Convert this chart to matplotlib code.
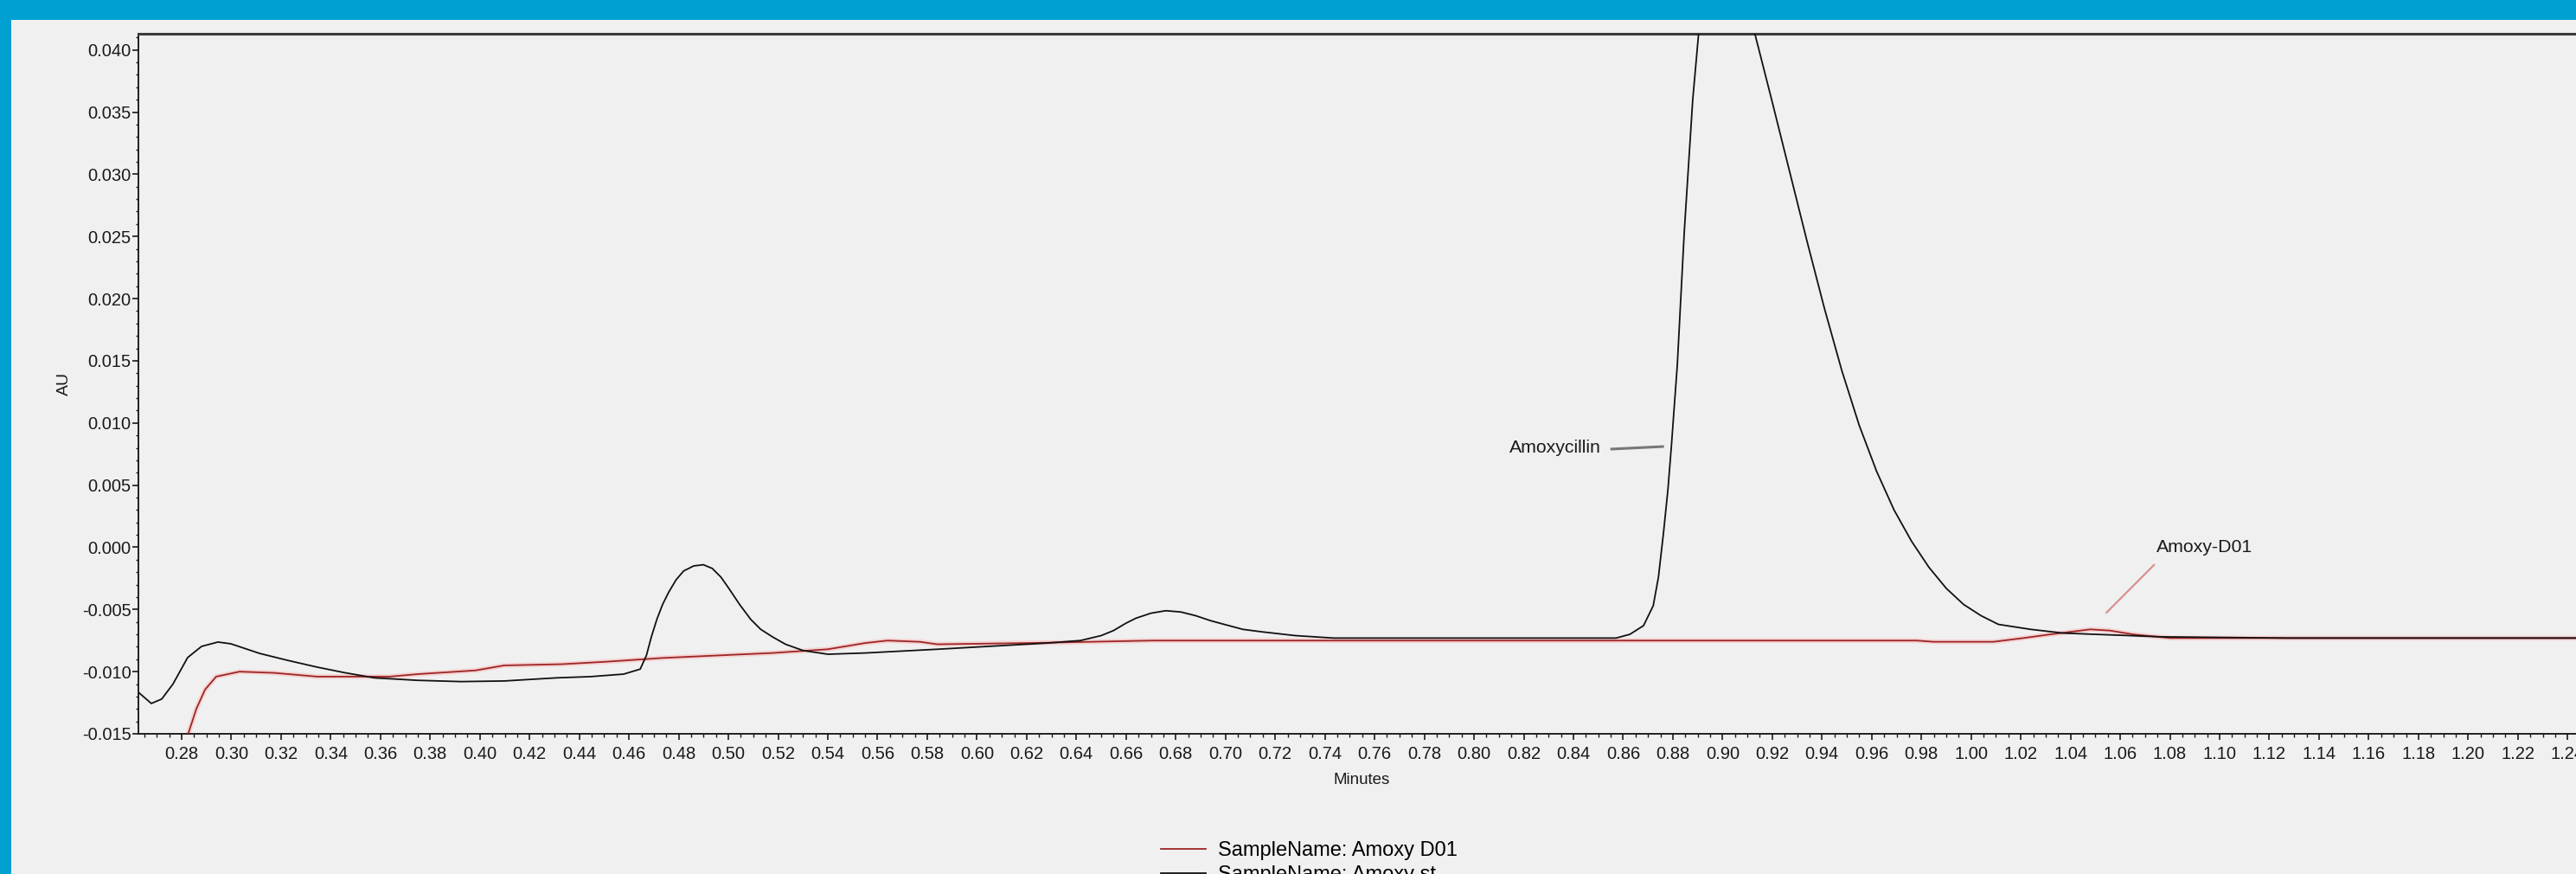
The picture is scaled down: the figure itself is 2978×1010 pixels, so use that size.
import matplotlib
matplotlib.use("Agg")
import matplotlib.pyplot as plt
import numpy as np
from matplotlib.patches import Rectangle
from matplotlib.ticker import MultipleLocator, FormatStrFormatter

plt.rcParams['font.family'] = ['Liberation Sans', 'DejaVu Sans']
plt.rcParams['axes.unicode_minus'] = False

# Amoxycillin standard trace (minutes, AU)
std_time = [0.2626, 0.2678, 0.2720, 0.2765, 0.2824, 0.2880, 0.2946, 0.2998, 0.3113, 0.3228,
            0.3346, 0.3460, 0.3576, 0.3750, 0.3924, 0.4098, 0.4307, 0.4446, 0.4578, 0.4645,
            0.4670, 0.4690, 0.4712, 0.4735, 0.4760, 0.4790, 0.4820, 0.4860, 0.4899, 0.4935,
            0.4970, 0.5005, 0.5045, 0.5090, 0.5130, 0.5177, 0.5230, 0.5300, 0.5400, 0.5550,
            0.5840, 0.6284, 0.6416, 0.6500, 0.6549, 0.6600, 0.6640, 0.6700, 0.6760, 0.6820,
            0.6880, 0.6940, 0.6995, 0.7070, 0.7147, 0.7280, 0.7436, 0.7660, 0.8000, 0.8571,
            0.8627, 0.8682, 0.8721, 0.8742, 0.8762, 0.8780, 0.8794, 0.8818, 0.8846, 0.8880,
            0.8920, 0.9000, 0.9080, 0.9130, 0.9200, 0.9270, 0.9340, 0.9410, 0.9480, 0.9550,
            0.9620, 0.9690, 0.9760, 0.9830, 0.9900, 0.9970, 1.0040, 1.0110, 1.0240, 1.0370,
            1.0500, 1.0770, 1.1270, 1.2500]
std_au = [-0.01166, -0.01256, -0.0122, -0.0110, -0.00887, -0.00797, -0.00762, -0.00776, -0.00853, -0.0091,
          -0.00964, -0.0101, -0.0105, -0.0107, -0.0108, -0.01075, -0.0105, -0.0104, -0.0102, -0.0098,
          -0.0087, -0.0072, -0.0058, -0.0046, -0.0036, -0.0026, -0.0019, -0.0015, -0.0014, -0.0017,
          -0.0024, -0.0034, -0.0046, -0.0058, -0.0066, -0.0072, -0.0078, -0.0083, -0.0086, -0.0085,
          -0.0082, -0.0077, -0.0075, -0.0071, -0.0067, -0.0061, -0.0057, -0.0053, -0.0051, -0.0052,
          -0.0055, -0.0059, -0.0062, -0.0066, -0.0068, -0.0071, -0.0073, -0.0073, -0.0073, -0.0073,
          -0.0070, -0.0063, -0.0047, -0.0024, 0.0011, 0.0046, 0.0081, 0.0147, 0.0254, 0.0360,
          0.0450, 0.0520, 0.0470, 0.0413, 0.0358, 0.0302, 0.0246, 0.0192, 0.0142, 0.0098,
          0.0061, 0.0030, 0.0005, -0.0016, -0.0033, -0.0046, -0.0055, -0.0062, -0.0066, -0.0069,
          -0.0070, -0.0072, -0.0073, -0.0073]

# Amoxy D01 sample trace
d01_time = [0.2815, 0.2828, 0.2859, 0.2894, 0.2939, 0.3033, 0.3172, 0.3346, 0.3637, 0.3750,
            0.3868, 0.3983, 0.4098, 0.4330, 0.4510, 0.4735, 0.4955, 0.5177, 0.5400, 0.5550,
            0.5640, 0.5770, 0.5840, 0.6210, 0.6706, 0.7500, 0.9780, 0.9850, 1.0090, 1.0210,
            1.0320, 1.0480, 1.0560, 1.0650, 1.0800, 1.2500]
d01_au = [-0.0160, -0.0149, -0.0130, -0.01145, -0.0104, -0.0100, -0.0101, -0.0104, -0.0104, -0.0102,
          -0.01005, -0.0099, -0.0095, -0.0094, -0.0092, -0.0089, -0.0087, -0.0085, -0.0082, -0.0077,
          -0.0075, -0.0076, -0.0078, -0.0077, -0.0075, -0.0075, -0.0075, -0.0076, -0.0076, -0.0073,
          -0.0070, -0.0066, -0.0067, -0.0070, -0.0073, -0.0073]

W, H = 2978, 1010
fig = plt.figure(figsize=(W / 100, H / 100), dpi=100, facecolor='#00a0d2')
# grey panel inside the blue frame, kept behind the axes
fig.patches.append(Rectangle((13 / W, 0), 1, 1 - 23 / H, transform=fig.transFigure,
                             facecolor='#f0f0f0', edgecolor='none', zorder=-10))

ax = fig.add_axes([160 / W, 1 - 848 / H, 2837 / W, 809 / H])
ax.set_zorder(1)
ax.set_facecolor('#f0f0f0')

ax.plot(d01_time, d01_au, color='#f4d2d2', lw=4, solid_capstyle='butt', zorder=2)
ax.plot(d01_time, d01_au, color='#9e2525', lw=1.3, zorder=3, label='SampleName: Amoxy D01')
ax.plot(std_time, std_au, color='#111111', lw=1.3, zorder=4, label='SampleName: Amoxy st')

ax.set_xlim(0.2626, 1.25)
ax.set_ylim(-0.015, 0.0413)

ax.xaxis.set_major_locator(MultipleLocator(0.02))
ax.xaxis.set_minor_locator(MultipleLocator(0.005))
ax.xaxis.set_major_formatter(FormatStrFormatter('%.2f'))
ax.yaxis.set_major_locator(MultipleLocator(0.005))
ax.yaxis.set_minor_locator(MultipleLocator(0.001))
ax.yaxis.set_major_formatter(FormatStrFormatter('%.3f'))
ax.tick_params(axis='x', which='major', length=5, width=1.2, labelsize=14.5, pad=5, colors='#1a1a1a')
ax.tick_params(axis='x', which='minor', length=3, width=1.0, colors='#1a1a1a')
ax.tick_params(axis='y', which='major', length=5, width=1.2, labelsize=14.5, pad=1, colors='#1a1a1a')
ax.tick_params(axis='y', which='minor', length=2.5, width=1.0, colors='#1a1a1a')

for side in ['left', 'bottom']:
    ax.spines[side].set_color('#111111')
    ax.spines[side].set_linewidth(1.3)
ax.spines['top'].set_color('#3a3a3a')
ax.spines['top'].set_linewidth(2.2)
ax.spines['right'].set_visible(False)

ax.set_ylabel('AU', fontsize=14, color='#1a1a1a')
ax.yaxis.set_label_coords(-0.0271, 0.5)
ax.set_xlabel('Minutes', fontsize=13.5, color='#1a1a1a')
ax.xaxis.set_label_coords(0.4984, -0.0556)

# peak labels
ax.text(0.8512, 0.0080, 'Amoxycillin', fontsize=15.3, color='#1a1a1a', ha='right', va='center')
ax.plot([0.8554, 0.8759], [0.0079, 0.0081], color='#777777', lw=2.2, zorder=5)
ax.text(1.0746, 0.0000, 'Amoxy-D01', fontsize=15.3, color='#1a1a1a', ha='left', va='center')
ax.plot([1.0545, 1.0736], [-0.00525, -0.00142], color='#d9908f', lw=1.6, zorder=5)

fig.legend(loc='upper left', bbox_to_anchor=(1342 / W, 1 - 972 / H), bbox_transform=fig.transFigure,
           frameon=False, fontsize=17, handlelength=2.2, handletextpad=0.6, labelspacing=0.25,
           borderpad=0, borderaxespad=0)

fig.savefig('out.png', dpi=100, facecolor=fig.get_facecolor())
